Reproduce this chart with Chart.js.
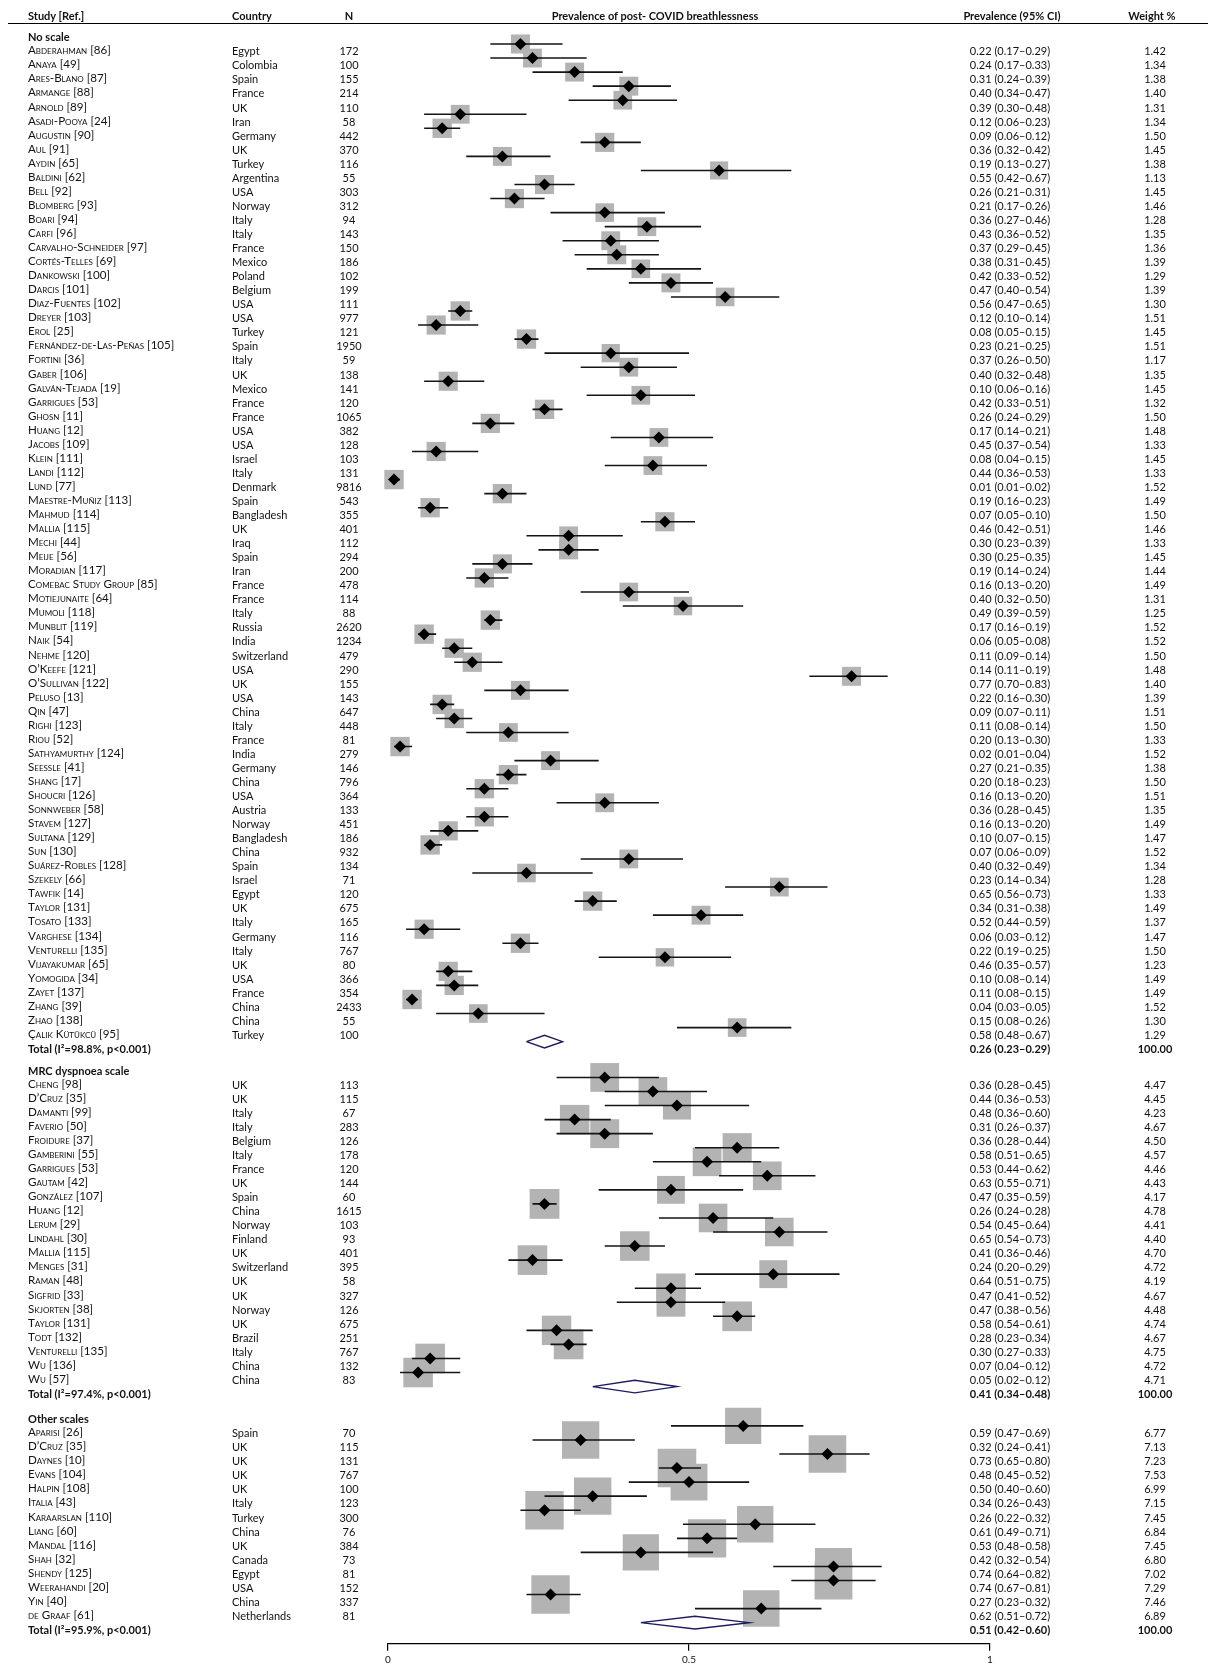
<!DOCTYPE html>
<html>
<head>
<meta charset="utf-8">
<script src="https://cdn.jsdelivr.net/npm/chart.js@4.4.0/dist/chart.umd.min.js"></script>
<style>
  body { margin: 0; background: #fff; }
  #wrap { position: relative; width: 1208px; height: 1671px; font-family: Lato, sans-serif; font-size: 11px; color: #111; }
  #chart { position: absolute; left: 0; top: 0; }
  .cell { position: absolute; white-space: nowrap; line-height: 1; transform: translateY(-50%); }
  .mid { transform: translate(-50%, -50%); }
  .name { font-variant: small-caps; font-size: 11.6px; }
  .bold { font-weight: bold; }
  #rule { position: absolute; left: 8px; right: 0; top: 23px; border-top: 1.5px solid #000; }
</style>
</head>
<body>
<div id="wrap">
  <canvas id="chart" width="1208" height="1671"></canvas>
  <div id="rule"></div>
</div>
<script>
// Sections of the forest plot
const sections = ['No scale', 'MRC dyspnoea scale', 'Other scales'];
const sectionSizes = [71, 22, 14];
const totalLabels = ['Total (I²=98.8%, p<0.001)', 'Total (I²=97.4%, p<0.001)', 'Total (I²=95.9%, p<0.001)'];
const totalPrev = [0.26, 0.41, 0.51];
const totalLow = [0.23, 0.34, 0.42];
const totalHigh = [0.29, 0.48, 0.60];

// Studies (in section order)
const studies = [
  'Abderahman [86]', 'Anaya [49]', 'Ares-Blano [87]', 'Armange [88]', 'Arnold [89]', 'Asadi-Pooya [24]', 'Augustin [90]', 'Aul [91]',
  'Aydin [65]', 'Baldini [62]', 'Bell [92]', 'Blomberg [93]', 'Boari [94]', 'Carfi [96]', 'Carvalho-Schneider [97]', 'Cortés-Telles [69]',
  'Dankowski [100]', 'Darcis [101]', 'Diaz-Fuentes [102]', 'Dreyer [103]', 'Erol [25]', 'Fernández-de-Las-Peñas [105]', 'Fortini [36]',
  'Gaber [106]', 'Galván-Tejada [19]', 'Garrigues [53]', 'Ghosn [11]', 'Huang [12]', 'Jacobs [109]', 'Klein [111]', 'Landi [112]',
  'Lund [77]', 'Maestre-Muñiz [113]', 'Mahmud [114]', 'Mallia [115]', 'Mechi [44]', 'Meije [56]', 'Moradian [117]',
  'Comebac Study Group [85]', 'Motiejunaite [64]', 'Mumoli [118]', 'Munblit [119]', 'Naik [54]', 'Nehme [120]', 'O’Keefe [121]',
  'O’Sullivan [122]', 'Peluso [13]', 'Qin [47]', 'Righi [123]', 'Riou [52]', 'Sathyamurthy [124]', 'Seeßle [41]', 'Shang [17]',
  'Shoucri [126]', 'Sonnweber [58]', 'Stavem [127]', 'Sultana [129]', 'Sun [130]', 'Suárez-Robles [128]', 'Szekely [66]', 'Tawfik [14]',
  'Taylor [131]', 'Tosato [133]', 'Varghese [134]', 'Venturelli [135]', 'Vijayakumar [65]', 'Yomogida [34]', 'Zayet [137]', 'Zhang [39]',
  'Zhao [138]', 'Çalık Kütükcü [95]',
  'Cheng [98]', 'D’Cruz [35]', 'Damanti [99]', 'Faverio [50]', 'Froidure [37]', 'Gamberini [55]', 'Garrigues [53]', 'Gautam [42]',
  'González [107]', 'Huang [12]', 'Lerum [29]', 'Lindahl [30]', 'Mallia [115]', 'Menges [31]', 'Raman [48]', 'Sigfrid [33]',
  'Skjorten [38]', 'Taylor [131]', 'Todt [132]', 'Venturelli [135]', 'Wu [136]', 'Wu [57]',
  'Aparisi [26]', 'D’Cruz [35]', 'Daynes [10]', 'Evans [104]', 'Halpin [108]', 'Italia [43]', 'Karaarslan [110]', 'Liang [60]',
  'Mandal [116]', 'Shah [32]', 'Shendy [125]', 'Weerahandi [20]', 'Yin [40]', 'de Graaf [61]'
];
const countries = [
  'Egypt', 'Colombia', 'Spain', 'France', 'UK', 'Iran', 'Germany', 'UK', 'Turkey', 'Argentina', 'USA', 'Norway', 'Italy', 'Italy',
  'France', 'Mexico', 'Poland', 'Belgium', 'USA', 'USA', 'Turkey', 'Spain', 'Italy', 'UK', 'Mexico', 'France', 'France', 'USA', 'USA',
  'Israel', 'Italy', 'Denmark', 'Spain', 'Bangladesh', 'UK', 'Iraq', 'Spain', 'Iran', 'France', 'France', 'Italy', 'Russia', 'India',
  'Switzerland', 'USA', 'UK', 'USA', 'China', 'Italy', 'France', 'India', 'Germany', 'China', 'USA', 'Austria', 'Norway', 'Bangladesh',
  'China', 'Spain', 'Israel', 'Egypt', 'UK', 'Italy', 'Germany', 'Italy', 'UK', 'USA', 'France', 'China', 'China', 'Turkey',
  'UK', 'UK', 'Italy', 'Italy', 'Belgium', 'Italy', 'France', 'UK', 'Spain', 'China', 'Norway', 'Finland', 'UK', 'Switzerland',
  'UK', 'UK', 'Norway', 'UK', 'Brazil', 'Italy', 'China', 'China',
  'Spain', 'UK', 'UK', 'UK', 'UK', 'Italy', 'Turkey', 'China', 'UK', 'Canada', 'Egypt', 'USA', 'China', 'Netherlands'
];
const sampleSizes = [
  172, 100, 155, 214, 110, 58, 442, 370, 116, 55, 303, 312, 94, 143, 150, 186, 102, 199, 111, 977, 121, 1950, 59, 138, 141, 120,
  1065, 382, 128, 103, 131, 9816, 543, 355, 401, 112, 294, 200, 478, 114, 88, 2620, 1234, 479, 290, 155, 143, 647, 448, 81, 279,
  146, 796, 364, 133, 451, 186, 932, 134, 71, 120, 675, 165, 116, 767, 80, 366, 354, 2433, 55, 100,
  113, 115, 67, 283, 126, 178, 120, 144, 60, 1615, 103, 93, 401, 395, 58, 327, 126, 675, 251, 767, 132, 83,
  70, 115, 131, 767, 100, 123, 300, 76, 384, 73, 81, 152, 337, 81
];
const prevalence = [
  0.22, 0.24, 0.31, 0.40, 0.39, 0.12, 0.09, 0.36, 0.19, 0.55, 0.26, 0.21, 0.36, 0.43, 0.37, 0.38, 0.42, 0.47, 0.56, 0.12, 0.08,
  0.23, 0.37, 0.40, 0.10, 0.42, 0.26, 0.17, 0.45, 0.08, 0.44, 0.01, 0.19, 0.07, 0.46, 0.30, 0.30, 0.19, 0.16, 0.40, 0.49, 0.17,
  0.06, 0.11, 0.14, 0.77, 0.22, 0.09, 0.11, 0.20, 0.02, 0.27, 0.20, 0.16, 0.36, 0.16, 0.10, 0.07, 0.40, 0.23, 0.65, 0.34, 0.52,
  0.06, 0.22, 0.46, 0.10, 0.11, 0.04, 0.15, 0.58,
  0.36, 0.44, 0.48, 0.31, 0.36, 0.58, 0.53, 0.63, 0.47, 0.26, 0.54, 0.65, 0.41, 0.24, 0.64, 0.47, 0.47, 0.58, 0.28, 0.30, 0.07, 0.05,
  0.59, 0.32, 0.73, 0.48, 0.50, 0.34, 0.26, 0.61, 0.53, 0.42, 0.74, 0.74, 0.27, 0.62
];
const ciLow = [
  0.17, 0.17, 0.24, 0.34, 0.30, 0.06, 0.06, 0.32, 0.13, 0.42, 0.21, 0.17, 0.27, 0.36, 0.29, 0.31, 0.33, 0.40, 0.47, 0.10, 0.05,
  0.21, 0.26, 0.32, 0.06, 0.33, 0.24, 0.14, 0.37, 0.04, 0.36, 0.01, 0.16, 0.05, 0.42, 0.23, 0.25, 0.14, 0.13, 0.32, 0.39, 0.16,
  0.05, 0.09, 0.11, 0.70, 0.16, 0.07, 0.08, 0.13, 0.01, 0.21, 0.18, 0.13, 0.28, 0.13, 0.07, 0.06, 0.32, 0.14, 0.56, 0.31, 0.44,
  0.03, 0.19, 0.35, 0.08, 0.08, 0.03, 0.08, 0.48,
  0.28, 0.36, 0.36, 0.26, 0.28, 0.51, 0.44, 0.55, 0.35, 0.24, 0.45, 0.54, 0.36, 0.20, 0.51, 0.41, 0.38, 0.54, 0.23, 0.27, 0.04, 0.02,
  0.47, 0.24, 0.65, 0.45, 0.40, 0.26, 0.22, 0.49, 0.48, 0.32, 0.64, 0.67, 0.23, 0.51
];
const ciHigh = [
  0.29, 0.33, 0.39, 0.47, 0.48, 0.23, 0.12, 0.42, 0.27, 0.67, 0.31, 0.26, 0.46, 0.52, 0.45, 0.45, 0.52, 0.54, 0.65, 0.14, 0.15,
  0.25, 0.50, 0.48, 0.16, 0.51, 0.29, 0.21, 0.54, 0.15, 0.53, 0.02, 0.23, 0.10, 0.51, 0.39, 0.35, 0.24, 0.20, 0.50, 0.59, 0.19,
  0.08, 0.14, 0.19, 0.83, 0.30, 0.11, 0.14, 0.30, 0.04, 0.35, 0.23, 0.20, 0.45, 0.20, 0.15, 0.09, 0.49, 0.34, 0.73, 0.38, 0.59,
  0.12, 0.25, 0.57, 0.14, 0.15, 0.05, 0.26, 0.67,
  0.45, 0.53, 0.60, 0.37, 0.44, 0.65, 0.62, 0.71, 0.59, 0.28, 0.64, 0.73, 0.46, 0.29, 0.75, 0.52, 0.56, 0.61, 0.34, 0.33, 0.12, 0.12,
  0.69, 0.41, 0.80, 0.52, 0.60, 0.43, 0.32, 0.71, 0.58, 0.54, 0.82, 0.81, 0.32, 0.72
];
const weights = [
  1.42, 1.34, 1.38, 1.40, 1.31, 1.34, 1.50, 1.45, 1.38, 1.13, 1.45, 1.46, 1.28, 1.35, 1.36, 1.39, 1.29, 1.39, 1.30, 1.51, 1.45,
  1.51, 1.17, 1.35, 1.45, 1.32, 1.50, 1.48, 1.33, 1.45, 1.33, 1.52, 1.49, 1.50, 1.46, 1.33, 1.45, 1.44, 1.49, 1.31, 1.25, 1.52,
  1.52, 1.50, 1.48, 1.40, 1.39, 1.51, 1.50, 1.33, 1.52, 1.38, 1.50, 1.51, 1.35, 1.49, 1.47, 1.52, 1.34, 1.28, 1.33, 1.49, 1.37,
  1.47, 1.50, 1.23, 1.49, 1.49, 1.52, 1.30, 1.29,
  4.47, 4.45, 4.23, 4.67, 4.50, 4.57, 4.46, 4.43, 4.17, 4.78, 4.41, 4.40, 4.70, 4.72, 4.19, 4.67, 4.48, 4.74, 4.67, 4.75, 4.72, 4.71,
  6.77, 7.13, 7.23, 7.53, 6.99, 7.15, 7.45, 6.84, 7.45, 6.80, 7.02, 7.29, 7.46, 6.89
];
const xTicks = [0, 0.5, 1];

// Row layout (row units, one row per line of the table)
const sectionGaps = [0, 0.55, 0.8];
const MARK_SHIFT = 0.45; // plotted marks sit slightly above the text line
const headerRow = [], studyRow = [], totalRow = [];
let r = 0;
sections.forEach((s, si) => {
  r += sectionGaps[si];
  headerRow.push(r); r += 1;
  for (let i = 0; i < sectionSizes[si]; i++) { studyRow.push(r); r += 1; }
  totalRow.push(r); r += 1;
});

const fmt = v => v.toFixed(2);
const boxSide = w => 14.5 + 3.2 * w;

// CI whiskers as one broken line
const ciLine = [];
studies.forEach((s, i) => {
  const y = studyRow[i] - MARK_SHIFT;
  ciLine.push({ x: ciLow[i], y: y }, { x: ciHigh[i], y: y }, { x: ciHigh[i], y: null });
});

// Pooled estimates as hollow diamonds
const pooled = [];
totalPrev.forEach((p, i) => {
  const y = totalRow[i] - MARK_SHIFT;
  pooled.push(
    { x: totalLow[i], y: y }, { x: p, y: y - 0.45 }, { x: totalHigh[i], y: y },
    { x: p, y: y + 0.45 }, { x: totalLow[i], y: y }, { x: p, y: null }
  );
});

const points = studies.map((s, i) => ({ x: prevalence[i], y: studyRow[i] - MARK_SHIFT }));

const chart = new Chart(document.getElementById('chart'), {
  type: 'scatter',
  data: {
    datasets: [
      {
        data: points, pointStyle: 'rectRot', pointRadius: 6, backgroundColor: '#000', borderWidth: 0,
        order: 0, clip: false
      },
      {
        data: pooled, showLine: true, spanGaps: false, pointRadius: 0, borderColor: '#1c1c5e', borderWidth: 1.4,
        backgroundColor: 'rgba(0,0,0,0)', order: 1, clip: false
      },
      {
        data: ciLine, showLine: true, spanGaps: false, pointRadius: 0, borderColor: '#151515', borderWidth: 1.6,
        order: 2, clip: false
      },
      {
        data: points, pointStyle: 'rect', backgroundColor: '#b3b3b3', borderWidth: 0,
        pointRadius: ctx => boxSide(weights[ctx.dataIndex]) / Math.SQRT2,
        order: 3, clip: false
      }
    ]
  },
  options: {
    responsive: false,
    animation: false,
    events: [],
    layout: { padding: { left: 388, right: 218, top: 24, bottom: 0 } },
    plugins: { legend: { display: false }, tooltip: { enabled: false } },
    scales: {
      x: {
        type: 'linear', min: 0, max: 1,
        afterBuildTicks: s => { s.ticks = xTicks.map(v => ({ value: v })); },
        grid: { drawOnChartArea: false, drawTicks: true, tickLength: 7, color: '#000', lineWidth: 1.2 },
        border: { display: true, color: '#000', width: 1.2 },
        ticks: { color: '#111', padding: 3, font: { family: 'Lato', size: 10 }, callback: v => String(v) }
      },
      y: { type: 'linear', reverse: true, min: -0.64, max: 114.4, display: false }
    }
  }
});

// Table text, placed on the chart's own row scale
const wrap = document.getElementById('wrap');
const yScale = chart.scales.y;
function put(text, x, top, cls) {
  const d = document.createElement('div');
  d.className = 'cell ' + (cls || '');
  d.textContent = text;
  d.style.left = x + 'px';
  d.style.top = top + 'px';
  wrap.appendChild(d);
}
const rowPx = row => yScale.getPixelForValue(row);

// Column headings
put('Study [Ref.]', 28, 15, 'bold');
put('Country', 232, 15, 'bold');
put('N', 349, 15, 'bold mid');
put('Prevalence of post- COVID breathlessness', 655, 15, 'bold mid');
put('Prevalence (95% CI)', 1012, 15, 'bold mid');
put('Weight %', 1152, 15, 'bold mid');

sections.forEach((s, si) => {
  put(s, 28, rowPx(headerRow[si]), 'bold');
  put(totalLabels[si], 28, rowPx(totalRow[si]), 'bold');
  put(fmt(totalPrev[si]) + ' (' + fmt(totalLow[si]) + '–' + fmt(totalHigh[si]) + ')', 1010, rowPx(totalRow[si]), 'bold mid');
  put('100.00', 1155, rowPx(totalRow[si]), 'bold mid');
});

studies.forEach((s, i) => {
  const y = rowPx(studyRow[i]);
  put(s, 28, y, 'name');
  put(countries[i], 232, y);
  put(String(sampleSizes[i]), 349, y, 'mid');
  put(fmt(prevalence[i]) + ' (' + fmt(ciLow[i]) + '–' + fmt(ciHigh[i]) + ')', 1010, y, 'mid');
  put(weights[i].toFixed(2), 1155, y, 'mid');
});
</script>
</body>
</html>
